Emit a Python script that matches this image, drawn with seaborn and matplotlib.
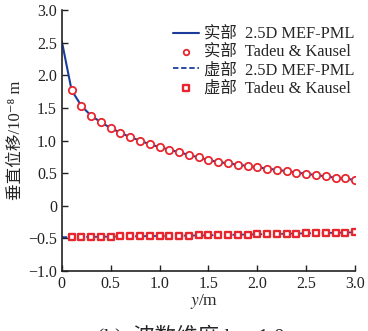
import numpy as np
import pandas as pd
import matplotlib
matplotlib.use("Agg")
import matplotlib.pyplot as plt
import seaborn as sns

# ---- data ----
y_pts = [0.1, 0.2, 0.3, 0.4, 0.5, 0.6, 0.7, 0.8, 0.9, 1.0,
         1.1, 1.2, 1.3, 1.4, 1.5, 1.6, 1.7, 1.8, 1.9, 2.0,
         2.1, 2.2, 2.3, 2.4, 2.5, 2.6, 2.7, 2.8, 2.9, 3.0]
real_tk = [1.77, 1.53, 1.38, 1.28, 1.19, 1.12, 1.05, 1.00, 0.94, 0.90,
           0.86, 0.82, 0.78, 0.74, 0.70, 0.67, 0.65, 0.63, 0.61, 0.59,
           0.57, 0.55, 0.53, 0.51, 0.49, 0.47, 0.45, 0.43, 0.42, 0.39]
imag_tk = [-0.480, -0.478, -0.476, -0.474, -0.472, -0.470, -0.468, -0.466, -0.464, -0.462,
           -0.460, -0.458, -0.456, -0.454, -0.452, -0.449, -0.446, -0.443, -0.440, -0.437,
           -0.434, -0.431, -0.428, -0.425, -0.422, -0.419, -0.416, -0.413, -0.410, -0.405]
y_line = [0.0] + y_pts
real_fem = [2.52] + real_tk
imag_fem = [-0.48] + imag_tk

labels = ["实部  2.5D MEF-PML", "实部  Tadeu & Kausel",
          "虚部  2.5D MEF-PML", "虚部  Tadeu & Kausel"]
xticks = [0, 0.5, 1.0, 1.5, 2.0, 2.5, 3.0]
xticklabels = ["0", "0.5", "1.0", "1.5", "2.0", "2.5", "3.0"]
yticks = [-1.0, -0.5, 0, 0.5, 1.0, 1.5, 2.0, 2.5, 3.0]
yticklabels = ["\u22121.0", "\u22120.5", "0", "0.5", "1.0", "1.5", "2.0", "2.5", "3.0"]

df_real = pd.DataFrame({"y": y_line, "u": real_fem})
df_imag = pd.DataFrame({"y": y_line, "u": imag_fem})
df_pts_r = pd.DataFrame({"y": y_pts, "u": real_tk})
df_pts_i = pd.DataFrame({"y": y_pts, "u": imag_tk})

sns.set_style("ticks")
fams = ["Liberation Serif", "Noto Sans CJK SC", "DejaVu Serif"]
plt.rcParams["font.family"] = fams
plt.rcParams["mathtext.fontset"] = "stix"
plt.rcParams["axes.unicode_minus"] = False

fig = plt.figure(figsize=(3.68, 3.31), dpi=100)
ax = fig.add_axes([0.168, 0.181, 0.797, 0.789])

blue = "#1c3c9c"
red = "#e8262e"
sns.lineplot(data=df_real, x="y", y="u", ax=ax,
             color=blue, lw=1.5, label=labels[0])
sns.scatterplot(data=df_pts_r, x="y", y="u", ax=ax, marker="o", s=28,
                facecolor="white", edgecolor=red, linewidth=1.3, label=labels[1], zorder=3)
sns.lineplot(data=df_imag, x="y", y="u", ax=ax,
             color=blue, lw=1.3, ls=(0, (3, 1.5)), label=labels[2])
sns.scatterplot(data=df_pts_i, x="y", y="u", ax=ax, marker="s", s=22,
                facecolor="white", edgecolor=red, linewidth=1.7, label=labels[3], zorder=3)

ax.set_xlim(0, 3.0)
ax.set_ylim(-1.0, 3.0)
ax.set_xticks(xticks)
ax.set_xticklabels(xticklabels)
ax.set_yticks(yticks)
ax.set_yticklabels(yticklabels)
ax.tick_params(direction="in", length=4, width=1, labelsize=11.5, colors="#222222")
for sp in ["top", "right"]:
    ax.spines[sp].set_visible(False)
for sp in ["left", "bottom"]:
    ax.spines[sp].set_linewidth(1.2)
    ax.spines[sp].set_color("#222222")

ax.set_xlabel("")
fig.text(0.556, 0.088, "$y$/m", ha="center", va="center", fontsize=12.5)
ax.set_ylabel("垂直位移/10\u207b\u2078 m", fontsize=12, labelpad=3, family=fams)

leg = ax.legend(loc="upper right", bbox_to_anchor=(1.03, 0.975), frameon=False,
                prop={"family": fams, "size": 11.8}, handlelength=1.6, handletextpad=0.3,
                labelspacing=0.12, borderaxespad=0.2)
for h in leg.legend_handles:
    if hasattr(h, "set_sizes"):
        h.set_sizes([16])

fig.text(0.52, 0.018, "(b)  波数维度 k = 1.0", ha="center", va="top", fontsize=15.5,
         family=fams)

fig.savefig("out.png", dpi=100)
